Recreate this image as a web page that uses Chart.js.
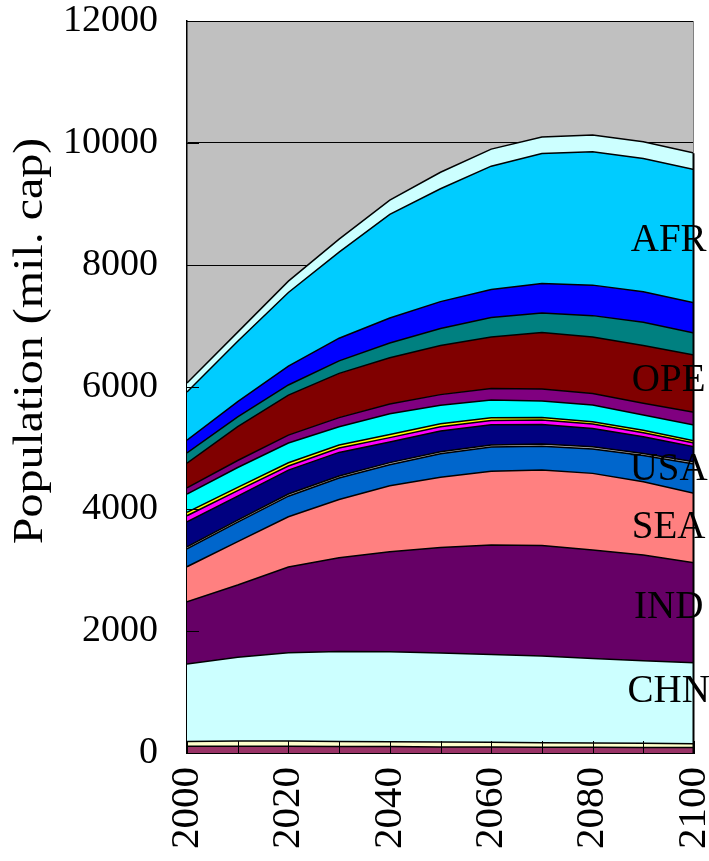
<!DOCTYPE html>
<html>
<head>
<meta charset="utf-8">
<script src="https://cdn.jsdelivr.net/npm/chart.js@4.4.0/dist/chart.umd.min.js"></script>
<style>
  html, body { margin: 0; padding: 0; background: #ffffff; }
  #wrap { width: 709px; height: 861px; }
</style>
</head>
<body>
<div id="wrap"><canvas id="chart" width="709" height="861"></canvas></div>
<script>
// 年份
const years = [2000, 2010, 2020, 2030, 2040, 2050, 2060, 2070, 2080, 2090, 2100];

// 各地区人口 (mil. cap)，自下而上
const reg1    = [110, 110, 110, 105, 105, 100, 100, 95, 95, 90, 90];
const reg2    = [80, 85, 85, 85, 80, 80, 75, 75, 70, 70, 60];
const chn     = [1269, 1373, 1449, 1475, 1475, 1460, 1440, 1420, 1386, 1353, 1330];
const ind     = [1021, 1185, 1404, 1536, 1640, 1730, 1794, 1810, 1776, 1732, 1639];
const sea     = [574, 711, 825, 954, 1080, 1150, 1211, 1238, 1257, 1202, 1137];
const usa     = [292, 320, 337, 352, 345, 385, 395, 391, 401, 429, 483];
const reg7    = [35, 35, 35, 35, 35, 35, 35, 35, 35, 35, 35];
const reg8    = [410, 393, 393, 386, 340, 340, 330, 323, 300, 273, 246];
const reg9    = [99, 88, 66, 72, 70, 70, 70, 71, 72, 66, 61];
const reg10   = [55, 55, 55, 50, 50, 48, 45, 43, 40, 40, 38];
const reg11   = [300, 325, 322, 298, 340, 302, 291, 268, 272, 250, 257];
const reg12   = [100, 115, 130, 150, 160, 175, 190, 200, 190, 195, 210];
const ope     = [408, 555, 657, 725, 760, 805, 844, 926, 926, 945, 937];
const reg14   = [165, 160, 165, 205, 240, 280, 320, 320, 350, 380, 360];
const reg15   = [212, 250, 310, 372, 410, 440, 460, 483, 500, 501, 497];
const afr     = [787, 990, 1207, 1410, 1700, 1850, 2020, 2130, 2185, 2186, 2186];
const reg17   = [148, 150, 186, 214, 234, 270, 280, 272, 275, 273, 268];

// y 轴刻度
const yTicks = [0, 2000, 4000, 6000, 8000, 10000, 12000];

// 图上的地区标签
const labelNames = ['AFR', 'OPE', 'USA', 'SEA', 'IND', 'CHN'];
const labelValues = [8400, 6110, 4640, 3700, 2380, 1000];
const labelYear = 2095;

const yTitle = 'Population (mil. cap)';
const FONT = '"Liberation Serif", "Times New Roman", serif';

const series = [
  { name: 'R1', data: reg1, color: '#993366' },
  { name: 'R2', data: reg2, color: '#FFFFCC' },
  { name: 'CHN', data: chn, color: '#CCFFFF' },
  { name: 'IND', data: ind, color: '#660066' },
  { name: 'SEA', data: sea, color: '#FF8080' },
  { name: 'USA', data: usa, color: '#0066CC' },
  { name: 'R7', data: reg7, color: '#C0C0C0' },
  { name: 'R8', data: reg8, color: '#000080' },
  { name: 'R9', data: reg9, color: '#FF00FF' },
  { name: 'R10', data: reg10, color: '#FFFF00' },
  { name: 'R11', data: reg11, color: '#00FFFF' },
  { name: 'R12', data: reg12, color: '#800080' },
  { name: 'OPE', data: ope, color: '#800000' },
  { name: 'R14', data: reg14, color: '#008080' },
  { name: 'R15', data: reg15, color: '#0000FF' },
  { name: 'AFR', data: afr, color: '#00CCFF' },
  { name: 'R17', data: reg17, color: '#CCFFFF' }
];

const datasets = series.map((s, i) => ({
  label: s.name,
  data: s.data.map((v, j) => ({ x: years[j], y: v })),
  backgroundColor: s.color,
  borderColor: '#000000',
  borderWidth: 1.5,
  pointRadius: 0,
  tension: 0,
  fill: i === 0 ? 'origin' : '-1'
}));

// 绘图区背景 + 内刻度 + 标签
const plotDecor = {
  id: 'plotDecor',
  beforeDraw(chart) {
    const a = chart.chartArea;
    const ctx = chart.ctx;
    ctx.save();
    ctx.fillStyle = '#C0C0C0';
    ctx.fillRect(a.left, a.top, a.right - a.left, a.bottom - a.top);
    ctx.restore();
  },
  afterDatasetsDraw(chart) {
    const ctx = chart.ctx;
    const a = chart.chartArea;
    const xs = chart.scales.x;
    const ys = chart.scales.y;
    ctx.save();
    // 右边框
    const last = years.length - 1;
    let sum = 0;
    series.forEach(s => { sum += s.data[last]; });
    const topY = ys.getPixelForValue(sum);
    ctx.strokeStyle = '#808080';
    ctx.lineWidth = 1;
    ctx.beginPath();
    ctx.moveTo(a.right - 0.5, a.top);
    ctx.lineTo(a.right - 0.5, topY);
    ctx.stroke();
    ctx.strokeStyle = '#000000';
    ctx.lineWidth = 2;
    ctx.beginPath();
    ctx.moveTo(a.right - 0.5, topY);
    ctx.lineTo(a.right - 0.5, a.bottom);
    ctx.stroke();
    // 内刻度
    ctx.lineWidth = 1;
    yTicks.forEach(v => {
      const py = Math.round(ys.getPixelForValue(v)) + 0.5;
      ctx.beginPath();
      ctx.moveTo(a.left, py);
      ctx.lineTo(a.left + 12, py);
      ctx.stroke();
    });
    years.forEach(yr => {
      const px = Math.round(xs.getPixelForValue(yr)) + 0.5;
      ctx.beginPath();
      ctx.moveTo(px, a.bottom);
      ctx.lineTo(px, a.bottom - 12);
      ctx.stroke();
    });
    // 地区标签
    ctx.fillStyle = '#000000';
    ctx.font = '39px ' + FONT;
    ctx.textAlign = 'center';
    ctx.textBaseline = 'middle';
    labelNames.forEach((t, i) => {
      ctx.fillText(t, xs.getPixelForValue(labelYear), ys.getPixelForValue(labelValues[i]));
    });
    ctx.restore();
  },
  afterDraw(chart) {
    // y 轴标题
    const ctx = chart.ctx;
    ctx.save();
    ctx.translate(31, 341);
    ctx.rotate(-Math.PI / 2);
    ctx.scale(1, 0.88);
    ctx.fillStyle = '#000000';
    ctx.font = '48px ' + FONT;
    ctx.textAlign = 'center';
    ctx.textBaseline = 'middle';
    ctx.fillText(yTitle, 0, 0);
    ctx.restore();
  }
};

new Chart(document.getElementById('chart'), {
  type: 'line',
  data: { datasets: datasets },
  options: {
    responsive: false,
    animation: false,
    layout: { padding: { left: 0, top: 21, right: 15, bottom: 0 } },
    plugins: {
      legend: { display: false },
      tooltip: { enabled: false },
      filler: { propagate: false }
    },
    scales: {
      x: {
        type: 'linear',
        min: 2000,
        max: 2100,
        grid: { display: false, drawTicks: false },
        border: { display: true, color: '#000000', width: 2 },
        ticks: {
          stepSize: 20,
          autoSkip: false,
          minRotation: 90,
          maxRotation: 90,
          padding: 14,
          color: '#000000',
          font: { family: FONT, size: 41, lineHeight: 1 },
          callback: v => String(v)
        },
        afterFit(scale) {
          scale.height = 108;
          scale.paddingLeft = 0;
          scale.paddingRight = 0;
        }
      },
      y: {
        stacked: true,
        min: 0,
        max: 12000,
        grid: { color: '#000000', lineWidth: 1, drawTicks: false },
        border: { display: true, color: '#000000', width: 1.5 },
        ticks: {
          stepSize: 2000,
          padding: 29,
          color: '#000000',
          font: { family: FONT, size: 38, lineHeight: 1 },
          callback: v => String(v)
        },
        afterFit(scale) {
          scale.width = 187;
          scale.paddingTop = 0;
          scale.paddingBottom = 0;
        }
      }
    }
  },
  plugins: [plotDecor]
});
</script>
</body>
</html>
